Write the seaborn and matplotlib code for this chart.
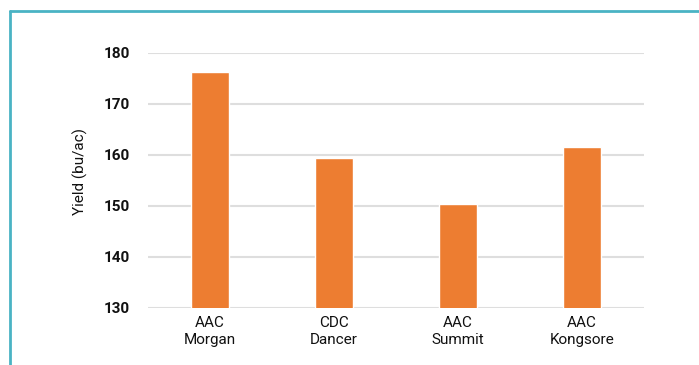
import matplotlib
matplotlib.use("Agg")
import matplotlib.pyplot as plt
import seaborn as sns
import pandas as pd
from matplotlib.lines import Line2D

sns.set_style("white")
plt.rcParams['font.family'] = ['Roboto', 'DejaVu Sans']

varieties = ["AAC\nMorgan", "CDC\nDancer", "AAC\nSummit", "AAC\nKongsore"]
yields = [176.3, 159.4, 150.4, 161.6]
yticks = [130, 140, 150, 160, 170, 180]

df = pd.DataFrame({"variety": varieties, "yield": yields})

fig = plt.figure(figsize=(6.99, 3.65), dpi=100)
ax = fig.add_axes([148 / 699, 1 - 308 / 365, (644 - 148) / 699, (308 - 53) / 365])

sns.barplot(data=df, x="variety", y="yield", color="#ED7D31", saturation=1,
            width=0.31, ax=ax, zorder=3)

ax.set_ylim(130, 180)
ax.set_yticks(yticks)
ax.set_yticklabels([str(t) for t in yticks], fontweight='bold', fontsize=11, color='#111111')
ax.tick_params(axis='y', length=0, pad=13)
ax.tick_params(axis='x', length=0, pad=6, labelsize=11, labelcolor='#111111')
ax.set_xlabel("")
ax.set_ylabel("Yield (bu/ac)", fontsize=11, color='#111111')
ax.yaxis.set_label_coords(-0.12, 0.537)
ax.yaxis.grid(True, color='#dedede', linewidth=1.5, zorder=0)
ax.set_axisbelow(True)
for s in ax.spines.values():
    s.set_visible(False)
ax.set_xlim(-0.5, 3.5)

# teal frame along top and left edge
frame_c = '#4ab3c4'
fig.add_artist(Line2D([10 / 699, 1], [1 - 11 / 365, 1 - 11 / 365], color=frame_c, linewidth=2,
                      transform=fig.transFigure))
fig.add_artist(Line2D([10 / 699, 10 / 699], [0, 1 - 11 / 365], color=frame_c, linewidth=2,
                      transform=fig.transFigure))

fig.savefig("out.png", dpi=100)
